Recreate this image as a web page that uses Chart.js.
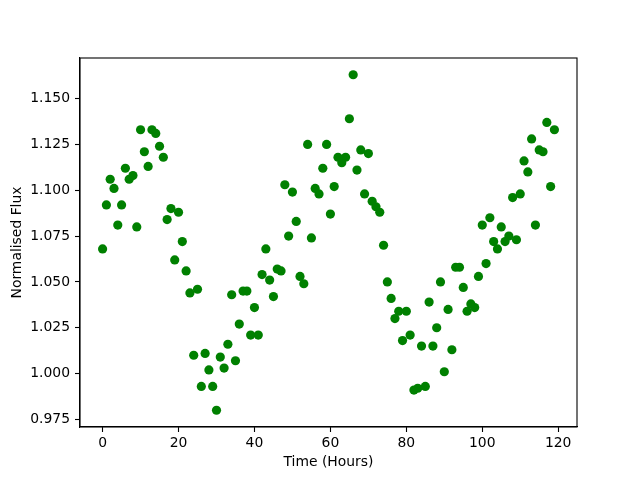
<!DOCTYPE html>
<html>
<head>
<meta charset="utf-8">
<script src="https://cdn.jsdelivr.net/npm/chart.js@4/dist/chart.umd.min.js"></script>
<style>
html, body { margin: 0; padding: 0; background: #fff; }
canvas { display: block; }
</style>
</head>
<body>
<canvas id="c" width="640" height="480"></canvas>
<script>
const hours = [0,1,2,3,4,5,6,7,8,9,10,11,12,13,14,15,16,17,18,19,20,21,22,23,24,25,26,27,28,29,
  30,31,32,33,34,35,36,37,38,39,40,41,42,43,44,45,46,47,48,49,50,51,52,53,54,55,56,57,58,59,
  60,61,62,63,64,65,66,67,68,69,70,71,72,73,74,75,76,77,78,79,80,81,82,83,84,85,86,87,88,89,
  90,91,92,93,94,95,96,97,98,99,100,101,102,103,104,105,106,107,108,109,110,111,112,113,114,115,116,117,118,119];
const flux = [1.068,1.092,1.106,1.101,1.081,1.092,1.112,1.106,1.108,1.080,
  1.133,1.121,1.113,1.133,1.131,1.124,1.118,1.084,1.090,1.062,
  1.088,1.072,1.056,1.044,1.010,1.046,0.993,1.011,1.002,0.993,
  0.980,1.009,1.003,1.016,1.043,1.007,1.027,1.045,1.045,1.021,
  1.036,1.021,1.054,1.068,1.051,1.042,1.057,1.056,1.103,1.075,
  1.099,1.083,1.053,1.049,1.125,1.074,1.101,1.098,1.112,1.125,
  1.087,1.102,1.118,1.115,1.118,1.139,1.163,1.111,1.122,1.098,
  1.120,1.094,1.091,1.088,1.070,1.050,1.041,1.030,1.034,1.018,
  1.034,1.021,0.991,0.992,1.015,0.993,1.039,1.015,1.025,1.050,
  1.001,1.035,1.013,1.058,1.058,1.047,1.034,1.038,1.036,1.053,
  1.081,1.060,1.085,1.072,1.068,1.080,1.072,1.075,1.096,1.073,
  1.098,1.116,1.110,1.128,1.081,1.122,1.121,1.137,1.102,1.133];
const xLabel = 'Time (Hours)';
const yLabel = 'Normalised Flux';

const points = hours.map((h, i) => ({ x: h, y: flux[i] }));
const xMinD = Math.min(...hours), xMaxD = Math.max(...hours);
const yMinD = Math.min(...flux), yMaxD = Math.max(...flux);
const xm = (xMaxD - xMinD) * 0.05, ym = (yMaxD - yMinD) * 0.05;

const FONT = { family: 'DejaVu Sans', size: 13.9 };

const framePlugin = {
  id: 'frame',
  afterDraw(chart) {
    const a = chart.chartArea, ctx = chart.ctx;
    ctx.save();
    ctx.strokeStyle = '#000';
    ctx.lineWidth = 1.1;
    ctx.strokeRect(a.left, a.top, a.right - a.left, a.bottom - a.top);
    ctx.restore();
  }
};

new Chart(document.getElementById('c'), {
  type: 'scatter',
  data: {
    datasets: [{
      data: points,
      backgroundColor: '#008000',
      borderWidth: 0,
      pointRadius: 4.6,
      pointHoverRadius: 4.6
    }]
  },
  options: {
    responsive: false,
    animation: false,
    devicePixelRatio: 1,
    layout: { padding: { left: 0, top: 58, right: 63, bottom: 0 } },
    plugins: { legend: { display: false }, tooltip: { enabled: false } },
    scales: {
      x: {
        type: 'linear',
        min: xMinD - xm,
        max: xMaxD + xm,
        afterFit(s) { s.height = 53; },
        ticks: {
          stepSize: 20,
          includeBounds: false,
          color: '#000',
          font: FONT,
          padding: 3,
          maxRotation: 0,
          callback: v => String(Math.round(v))
        },
        grid: { drawOnChartArea: false, drawTicks: true, tickLength: 5, tickColor: '#000', tickWidth: 1.1 },
        border: { display: true, color: '#000', width: 1.1 },
        title: { display: true, text: xLabel, color: '#000', font: FONT, padding: { top: 0, bottom: 9 } }
      },
      y: {
        type: 'linear',
        min: yMinD - ym,
        max: yMaxD + ym,
        afterFit(s) { s.width = 80; },
        ticks: {
          stepSize: 0.025,
          includeBounds: false,
          color: '#000',
          font: FONT,
          padding: 5,
          callback: v => v.toFixed(3)
        },
        grid: { drawOnChartArea: false, drawTicks: true, tickLength: 5, tickColor: '#000', tickWidth: 1.1 },
        border: { display: true, color: '#000', width: 1.1 },
        title: { display: true, text: yLabel, color: '#000', font: FONT, padding: { top: 9, bottom: 0 } }
      }
    }
  },
  plugins: [framePlugin]
});
</script>
</body>
</html>
